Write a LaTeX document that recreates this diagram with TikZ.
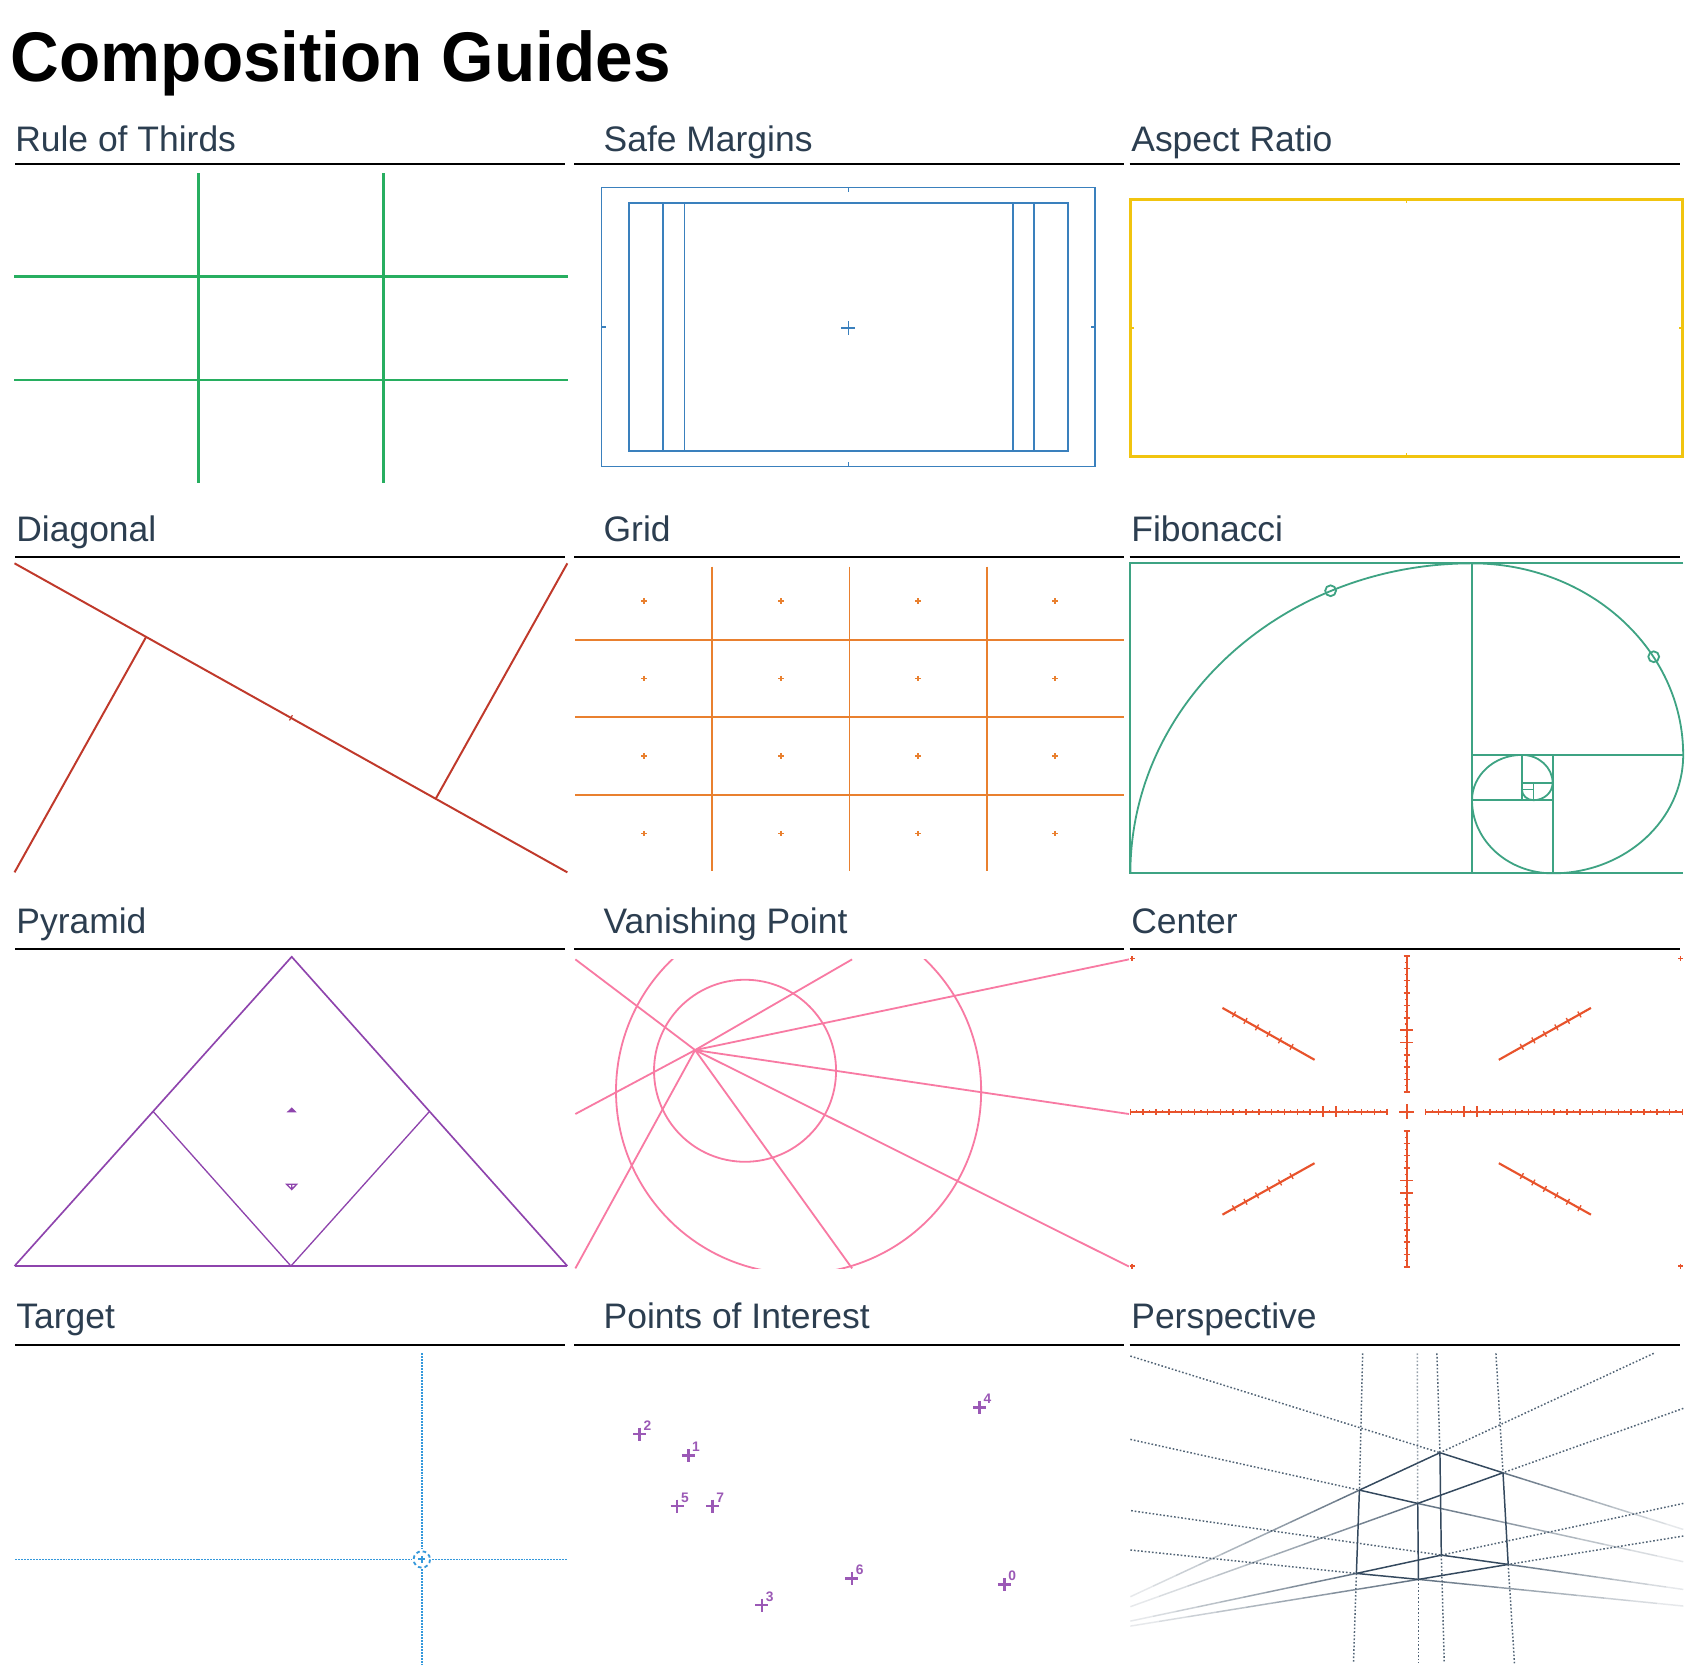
\documentclass[tikz,border=0pt]{standalone}
\usepackage{fontspec}
\setmainfont{Liberation Sans}
\newfontfamily\titlefont{Liberation Sans}[FakeStretch=0.96]
\usetikzlibrary{calc}
\definecolor{ink}{HTML}{2C3E50}
\definecolor{thirdsgreen}{HTML}{27AE60}
\definecolor{safeblue}{HTML}{3A80BD}
\definecolor{ratioyellow}{HTML}{F1C40F}
\definecolor{diagred}{HTML}{C0392B}
\definecolor{gridorange}{HTML}{E9802F}
\definecolor{fibteal}{HTML}{3EA383}
\definecolor{pyrpurple}{HTML}{8E44AD}
\definecolor{vppink}{HTML}{F87AA3}
\definecolor{centrered}{HTML}{E8532C}
\definecolor{aimblue}{HTML}{3498DB}
\definecolor{poipurple}{HTML}{9B59B6}
\definecolor{perslate}{HTML}{34495E}

% fading guide line of the perspective panel
\newcommand\fadeto[2]{%
  \foreach \k in {0,...,9}{%
    \pgfmathsetmacro\fa{\k/10}%
    \pgfmathsetmacro\fb{(\k+1)/10}%
    \pgfmathsetmacro\fo{0.75-0.07*\k}%
    \draw[persline, opacity=\fo] ($(#1)!\fa!(#2)$) -- ($(#1)!\fb!(#2)$);
  }}

\begin{document}
\begin{tikzpicture}[
  x=0.33pt, y=-0.33pt,
  head/.style={anchor=base west, inner sep=0pt, text=ink, font=\fontsize{10.8}{13}\selectfont},
  bar/.style={draw=black, line width=0.62pt},
  thirds/.style={draw=thirdsgreen, line width=0.8pt},
  safe/.style={draw=safeblue, line width=0.55pt},
  ratio/.style={draw=ratioyellow, line width=0.8pt},
  diag/.style={draw=diagred, line width=0.6pt},
  gridline/.style={draw=gridorange, line width=0.6pt},
  fib/.style={draw=fibteal, line width=0.55pt},
  pyr/.style={draw=pyrpurple, line width=0.5pt},
  vp/.style={draw=vppink, line width=0.55pt},
  centre/.style={draw=centrered, line width=0.65pt},
  aim/.style={draw=aimblue, line width=0.55pt, dash pattern=on 0.6pt off 0.3pt},
  poi/.style={draw=poipurple, line width=0.8pt},
  persline/.style={draw=perslate, line width=0.45pt},
  persdot/.style={draw=perslate!85, line width=0.45pt, dash pattern=on 0.5pt off 0.6pt}
]
\fill[white] (0,0) rectangle (1568,1542);
\useasboundingbox (0,0) rectangle (1568,1542);

\node[anchor=base west, inner sep=0pt, font=\titlefont\bfseries\fontsize{21.4}{25}\selectfont] (title) at (9.5,75) {Composition Guides};

% panel headings
\foreach \y in {151,514,876,1241}
  \draw[bar] (14,\y) -- (521,\y) (530,\y) -- (1037,\y) (1042.5,\y) -- (1550.5,\y);
\node[head] (hThirds) at (13.5,139.4) {Rule of Thirds};
\node[head] (hSafe) at (556.5,139.4) {Safe Margins};
\node[head] (hRatio) at (1043.5,139.4) {Aspect Ratio};
\node[head] (hDiag) at (14.5,499.4) {Diagonal};
\node[head] (hGrid) at (556.5,499.4) {Grid};
\node[head] (hFib) at (1043.5,499.4) {Fibonacci};
\node[head] (hPyr) at (14.5,861.4) {Pyramid};
\node[head] (hVp) at (556.5,861.4) {Vanishing Point};
\node[head] (hCentre) at (1043.5,861.4) {Center};
\node[head] (hAim) at (14.5,1226) {Target};
\node[head] (hPoi) at (556.5,1226) {Points of Interest};
\node[head] (hPers) at (1043.5,1226) {Perspective};

% rule of thirds
\foreach \y in {255.3,350.7} \draw[thirds] (13,\y) -- (524,\y);
\foreach \x in {183.3,353.7} \draw[thirds] (\x,160) -- (\x,446);

% safe margins
\draw[safe, line width=0.4pt] (555.3,172.9) rectangle (1010.7,430.7);
\draw[safe, line width=0.4pt] (783,172.9) -- (783,177) (783,430.7) -- (783,426.6)
  (555.3,301.8) -- (559.4,301.8) (1010.7,301.8) -- (1006.6,301.8);
\draw[safe, line width=0.62pt] (580.1,187.1) rectangle (986,416.2);
\foreach \x in {611.9,631.6,935.1,954.5} \draw[safe, line width=0.5pt] (\x,187.1) -- (\x,416.2);
\draw[safe, line width=0.5pt] (776.6,303) -- (789.4,303) (783,296.6) -- (783,309.4);

% aspect ratio
\draw[ratio] (1043.2,184) rectangle (1552.7,421.5);
\draw[ratio, line width=0.5pt] (1298,184) -- (1298,187.5) (1298,421.5) -- (1298,418)
  (1043.2,302.7) -- (1046.7,302.7) (1552.7,302.7) -- (1549.2,302.7);

% diagonal
\coordinate (dTL) at (13.4,519.9);
\coordinate (dBR) at (523.6,805.1);
\coordinate (dBL) at (13.4,805.1);
\coordinate (dTR) at (523.6,519.9);
\coordinate (dMid) at ($(dTL)!0.5!(dBR)$);
\draw[diag] (dTL) -- (dBR);
\draw[diag] (dBL) -- ($(dTL)!(dBL)!(dBR)$);
\draw[diag] (dTR) -- ($(dTL)!(dTR)!(dBR)$);
\draw[diag, line width=0.35pt] ($(dMid)!0.9pt!90:(dBR)$) -- ($(dMid)!0.9pt!-90:(dBR)$);

% grid
\foreach \x in {657.5,784,910.5} \draw[gridline] (\x,523) -- (\x,804);
\foreach \y in {590.5,662,733.5} \draw[gridline] (531,\y) -- (1037,\y);
\foreach \i in {0,...,3}
  \foreach \j in {0,...,3}
    \draw[gridline, line width=0.5pt, shift={({594.25+126.5*\i},{554.75+71.5*\j})}]
      (-2.5,0) -- (2.5,0) (0,-2.5) -- (0,2.5);

% fibonacci
\draw[fib] (1553.4,519.9) -- (1043.2,519.9) -- (1043.2,806) -- (1553.4,806);
\draw[fib] (1358.5,519.9) -- (1358.5,806) (1358.5,696.7) -- (1553.4,696.7)
  (1432.9,696.7) -- (1432.9,806) (1358.5,738.5) -- (1432.9,738.5)
  (1404.5,696.7) -- (1404.5,738.5) (1404.5,722.5) -- (1432.9,722.5)
  (1415.3,722.5) -- (1415.3,738.5) (1404.5,728.6) -- (1415.3,728.6);
\draw[fib] (1043.2,806)
  arc[start angle=180, end angle=270, x radius=315.3, y radius=286.1]
  arc[start angle=270, end angle=360, x radius=194.9, y radius=176.8]
  arc[start angle=0, end angle=90, x radius=120.5, y radius=109.3]
  arc[start angle=90, end angle=180, x radius=74.4, y radius=67.5]
  arc[start angle=180, end angle=270, x radius=46, y radius=41.8]
  arc[start angle=270, end angle=360, x radius=28.4, y radius=25.8]
  arc[start angle=0, end angle=90, x radius=17.6, y radius=16]
  arc[start angle=90, end angle=180, x radius=10.8, y radius=9.9];
\draw[fib] (1228,545.2) circle[radius=5] (1526.2,606.1) circle[radius=5];

% pyramid
\coordinate (pTop) at (269.2,883);
\coordinate (pL) at (13.4,1168.4);
\coordinate (pR) at (523.6,1168.4);
\draw[pyr] (pL) -- (pTop) -- (pR);
\draw[pyr, line width=0.35pt] (pL) -- (pR);
\draw[pyr, line width=0.4pt] ($(pL)!0.5!(pTop)$) -- ($(pL)!0.5!(pR)$) -- ($(pR)!0.5!(pTop)$);
\fill[pyrpurple] (264.6,1026.5) -- (269.2,1022) -- (273.8,1026.5) -- cycle;
\draw[pyr, line width=0.4pt] (264.6,1093) -- (273.8,1093) -- (269.2,1097.8) -- cycle
  (269.2,1093) -- (269.2,1097.8);

% vanishing point
\coordinate (vp) at (641.5,969.1);
\begin{scope}
  \clip (531,885.4) rectangle (1042,1170.6);
  \draw[vp] (737,1007) circle[radius=168.5];
\end{scope}
\draw[vp] (687.6,988.2) circle[radius=84];
\foreach \p in {(531,885.4),(786.4,885.4),(1041.9,885.4),(531,1028.1),
                (1041.9,1028.1),(531,1170.6),(786.4,1170.6),(1041.9,1168.9)}
  \draw[vp] (vp) -- \p;

% center
\coordinate (cc) at (1298.2,1026);
\coordinate (cTL) at (1043.2,882.3);
\coordinate (cTR) at (1553.3,882.3);
\coordinate (cBL) at (1043.2,1168.5);
\coordinate (cBR) at (1553.3,1168.5);
\draw[centre] (1043.2,1026) -- (1280,1026) (1316,1026) -- (1553.3,1026)
  (1298.2,882.3) -- (1298.2,1007.5) (1298.2,1043.8) -- (1298.2,1168.5);
\draw[centre] (1291.4,1026) -- (1305,1026) (1298.2,1019.2) -- (1298.2,1032.8);
\foreach \c in {(1045,884.5),(1551,884.5),(1045,1168.5),(1551,1168.5)}
  \draw[centre, line width=0.5pt, shift={\c}] (-2.2,0) -- (2.2,0) (0,-2.2) -- (0,2.2);
\foreach \n in {0,...,20} \draw[centre, line width=0.45pt] ({1043.2+11.85*\n},1023.4) -- ({1043.2+11.85*\n},1028.6);
\foreach \n in {23,...,43} \draw[centre, line width=0.45pt] ({1043.2+11.85*\n},1023.4) -- ({1043.2+11.85*\n},1028.6);
\foreach \n in {0,...,19} \draw[centre, line width=0.35pt] ({1049.1+11.85*\n},1024.6) -- ({1049.1+11.85*\n},1027.4);
\foreach \n in {23,...,42} \draw[centre, line width=0.35pt] ({1049.1+11.85*\n},1024.6) -- ({1049.1+11.85*\n},1027.4);
\foreach \n in {15,16,26,27} \draw[centre, line width=0.45pt] ({1043.2+11.85*\n},1021) -- ({1043.2+11.85*\n},1031);
\foreach \k in {0,...,11} {
  \draw[centre, line width=0.45pt] (1295.4,{882.3+11.4*\k}) -- (1301,{882.3+11.4*\k});
  \draw[centre, line width=0.45pt] (1295.4,{1043.8+11.4*\k}) -- (1301,{1043.8+11.4*\k});
}
\foreach \k in {0,...,10} {
  \draw[centre, line width=0.35pt] (1296.6,{888+11.4*\k}) -- (1299.8,{888+11.4*\k});
  \draw[centre, line width=0.35pt] (1296.6,{1049.5+11.4*\k}) -- (1299.8,{1049.5+11.4*\k});
}
\foreach \y in {950.7,962.1,1089.4,1100.8}
  \draw[centre, line width=0.45pt] (1292.4,\y) -- (1304,\y);
\foreach \c in {cTL,cTR,cBL,cBR} {
  \coordinate (ci) at ($(cc)!1/3!(\c)$);
  \coordinate (co) at ($(cc)!2/3!(\c)$);
  \draw[centre] (ci) -- (co);
  \foreach \k in {1,...,6} {
    \coordinate (ct) at ($(co)!\k/8!(ci)$);
    \draw[centre, line width=0.4pt] ($(ct)!1pt!90:(ci)$) -- ($(ct)!1pt!-90:(ci)$);
  }
}

% target
\coordinate (aimC) at (389.3,1439.2);
\draw[aim] (14.1,1439.2) -- (380,1439.2) (398.6,1439.2) -- (523.6,1439.2);
\draw[aim] (389.3,1249) -- (389.3,1430) (389.3,1448.4) -- (389.3,1536);
\draw[aimblue, line width=0.55pt, dash pattern=on 1.1pt off 0.9pt] (aimC) circle[radius=7.6];
\draw[aimblue, line width=0.6pt] (386,1439.2) -- (392.6,1439.2) (389.3,1435.9) -- (389.3,1442.5);

% points of interest
\foreach \n/\px/\py in {0/926.9/1462.6, 1/635.2/1343.5, 2/590.3/1323.5, 3/703.1/1481.3,
                        4/904.1/1298.9, 5/624.9/1390, 6/786.2/1456.7, 7/657.6/1390} {
  \draw[poi] ({\px-6},\py) -- ({\px+6},\py) (\px,{\py-6}) -- (\px,{\py+6});
  \node[anchor=south west, inner sep=0pt, text=poipurple, font=\bfseries\fontsize{4.2}{5}\selectfont]
    (poi\n) at ({\px+3},{\py-3}) {\n};
}

% perspective
\coordinate (pA) at (1254.6,1375.2);
\coordinate (pB) at (1328.9,1340.7);
\coordinate (pC) at (1387.1,1359.2);
\coordinate (pD) at (1308.4,1387.5);
\coordinate (pE) at (1251.8,1452.1);
\coordinate (pF) at (1330.2,1435.2);
\coordinate (pG) at (1391.9,1443.8);
\coordinate (pH) at (1309.1,1457.6);
\draw[persdot] (1043.2,1251.5) -- (pB);  \draw[persline] (pB) -- (pC);  \fadeto{pC}{1553.5,1411.5}
\draw[persdot] (1043.2,1328.4) -- (pA);  \draw[persline] (pA) -- (pD);  \fadeto{pD}{1553.5,1441.3}
\draw[persdot] (1043.9,1394.2) -- (pF);  \draw[persline] (pF) -- (pG);  \fadeto{pG}{1553.5,1466.9}
\draw[persdot] (1043.2,1430.5) -- (pE);  \draw[persline] (pE) -- (pH);  \fadeto{pH}{1553.5,1482.2}
\draw[persdot] (1526.2,1249) -- (pB);    \draw[persline] (pB) -- (pA);  \fadeto{pA}{1043.2,1473.6}
\draw[persdot] (1553.5,1299.8) -- (pC);  \draw[persline] (pC) -- (pD);  \fadeto{pD}{1043.2,1482.8}
\draw[persdot] (1553.5,1387.5) -- (pF);  \draw[persline] (pF) -- (pE);  \fadeto{pE}{1043.2,1496.1}
\draw[persdot] (1553.5,1417.6) -- (pG);  \draw[persline] (pG) -- (pH);  \fadeto{pH}{1043.2,1500.7}
\draw[persdot] (1257.6,1249) -- (pA);  \draw[persline] (pA) -- (pE);  \draw[persdot] (pE) -- (1249.1,1535);
\draw[persdot, opacity=0.6] (1308.1,1249) -- (pD);  \draw[persline] (pD) -- (pH);  \draw[persdot] (pH) -- (1309.1,1535);
\draw[persdot] (1326.1,1249) -- (pB);  \draw[persline] (pB) -- (pF);  \draw[persdot] (pF) -- (1332.9,1535);
\draw[persdot] (1380.6,1249) -- (pC);  \draw[persline] (pC) -- (pG);  \draw[persdot] (pG) -- (1397.7,1535);
\end{tikzpicture}
\end{document}
